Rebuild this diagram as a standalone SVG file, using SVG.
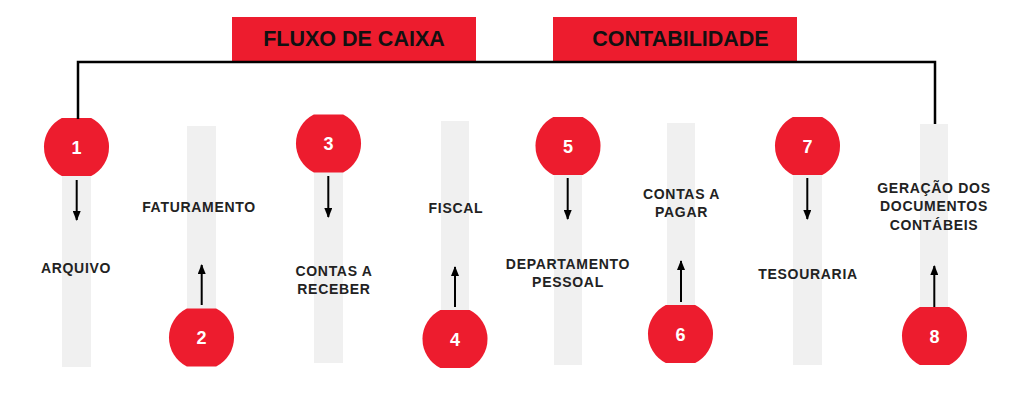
<svg xmlns="http://www.w3.org/2000/svg" xmlns:xlink="http://www.w3.org/1999/xlink" width="1024" height="404" viewBox="0 0 1024 404">
  <style>
    .bar { fill: #f0f0f0; }
    .badge { fill: #ed1c2e; }
    .hdr { fill: #ed1c2e; }
    .hdrtxt { font-family: "Liberation Sans", Arial, sans-serif; font-weight: bold; font-size: 21.5px; fill: #111; }
    .num { font-family: "Liberation Sans", Arial, sans-serif; font-weight: bold; font-size: 18px; fill: #fff; text-anchor: middle; }
    .lbl { font-family: "Liberation Sans", Arial, sans-serif; font-weight: bold; font-size: 14px; fill: #222; text-anchor: middle; letter-spacing: 0.7px; }
    .conn { fill: none; stroke: #000; stroke-width: 2.5; }
    .arr { fill: none; stroke: #000; stroke-width: 2; marker-end: url(#ah); }
  </style>
  <defs>
    <path id="badgeShape" d="M-14.7,-29 H14.7 A32.5,32.5 0 0 1 14.7,29 H-14.7 A32.5,32.5 0 0 1 -14.7,-29 Z"/>
    <marker id="ah" viewBox="0 0 10 8" refX="9" refY="4" markerWidth="10" markerHeight="8" markerUnits="userSpaceOnUse" orient="auto">
      <path d="M0,0 L10,4 L0,8 Z" fill="#000"/>
    </marker>
  </defs>

  <rect width="1024" height="404" fill="#fff"/>

  <g id="header-fluxo">
    <rect class="hdr" x="232" y="17" width="244" height="45"/>
    <text class="hdrtxt" x="354" y="46" text-anchor="middle">FLUXO DE CAIXA</text>
  </g>
  <g id="header-contabilidade">
    <rect class="hdr" x="553" y="17" width="244" height="45"/>
    <text class="hdrtxt" x="680.5" y="46" text-anchor="middle">CONTABILIDADE</text>
  </g>

  <g id="node-1">
    <rect class="bar" x="62" y="150" width="29" height="217"/>
    <use xlink:href="#badgeShape" href="#badgeShape" class="badge" x="76.5" y="147"/>
    <text class="num" x="76.5" y="153.5">1</text>
    <text class="lbl" x="76" y="273">ARQUIVO</text>
  </g>
  <g id="node-2">
    <rect class="bar" x="187" y="126" width="29" height="215"/>
    <use xlink:href="#badgeShape" href="#badgeShape" class="badge" x="201.5" y="337.5"/>
    <text class="num" x="201.5" y="344">2</text>
    <text class="lbl" x="199" y="212">FATURAMENTO</text>
  </g>
  <g id="node-3">
    <rect class="bar" x="314" y="150" width="29" height="213"/>
    <use xlink:href="#badgeShape" href="#badgeShape" class="badge" x="328.5" y="143.5"/>
    <text class="num" x="328.5" y="150">3</text>
    <text class="lbl" x="334" y="276">CONTAS A</text>
    <text class="lbl" x="334" y="293.5">RECEBER</text>
  </g>
  <g id="node-4">
    <rect class="bar" x="441" y="121" width="28" height="220"/>
    <use xlink:href="#badgeShape" href="#badgeShape" class="badge" x="455" y="339"/>
    <text class="num" x="455" y="345.5">4</text>
    <text class="lbl" x="456" y="213">FISCAL</text>
  </g>
  <g id="node-5">
    <rect class="bar" x="554" y="150" width="28" height="215"/>
    <use xlink:href="#badgeShape" href="#badgeShape" class="badge" x="568" y="146"/>
    <text class="num" x="568" y="152.5">5</text>
    <text class="lbl" x="568" y="268.5">DEPARTAMENTO</text>
    <text class="lbl" x="568" y="287">PESSOAL</text>
  </g>
  <g id="node-6">
    <rect class="bar" x="667" y="123" width="28" height="215"/>
    <use xlink:href="#badgeShape" href="#badgeShape" class="badge" x="680.5" y="334"/>
    <text class="num" x="680.5" y="340.5">6</text>
    <text class="lbl" x="681.5" y="198.5">CONTAS A</text>
    <text class="lbl" x="681.5" y="217">PAGAR</text>
  </g>
  <g id="node-7">
    <rect class="bar" x="793" y="150" width="29" height="215"/>
    <use xlink:href="#badgeShape" href="#badgeShape" class="badge" x="807.5" y="146"/>
    <text class="num" x="807.5" y="152.5">7</text>
    <text class="lbl" x="808" y="279">TESOURARIA</text>
  </g>
  <g id="node-8">
    <rect class="bar" x="920" y="124" width="28" height="215"/>
    <use xlink:href="#badgeShape" href="#badgeShape" class="badge" x="934.5" y="336"/>
    <text class="num" x="934.5" y="342.5">8</text>
    <text class="lbl" x="934" y="193">GERAÇÃO DOS</text>
    <text class="lbl" x="934" y="211">DOCUMENTOS</text>
    <text class="lbl" x="934" y="229.5">CONTÁBEIS</text>
  </g>

  <g id="connectors">
    <path class="conn" d="M78,119 V62 H935 V124"/>
    <line class="arr" x1="76.7" y1="180" x2="76.7" y2="220"/>
    <line class="arr" x1="201.7" y1="305" x2="201.7" y2="265"/>
    <line class="arr" x1="328.3" y1="176" x2="328.3" y2="217"/>
    <line class="arr" x1="455" y1="307" x2="455" y2="267"/>
    <line class="arr" x1="567.7" y1="178" x2="567.7" y2="219"/>
    <line class="arr" x1="681" y1="302" x2="681" y2="261"/>
    <line class="arr" x1="807.3" y1="178" x2="807.3" y2="219"/>
    <line class="arr" x1="934.3" y1="307" x2="934.3" y2="266"/>
  </g>
</svg>
